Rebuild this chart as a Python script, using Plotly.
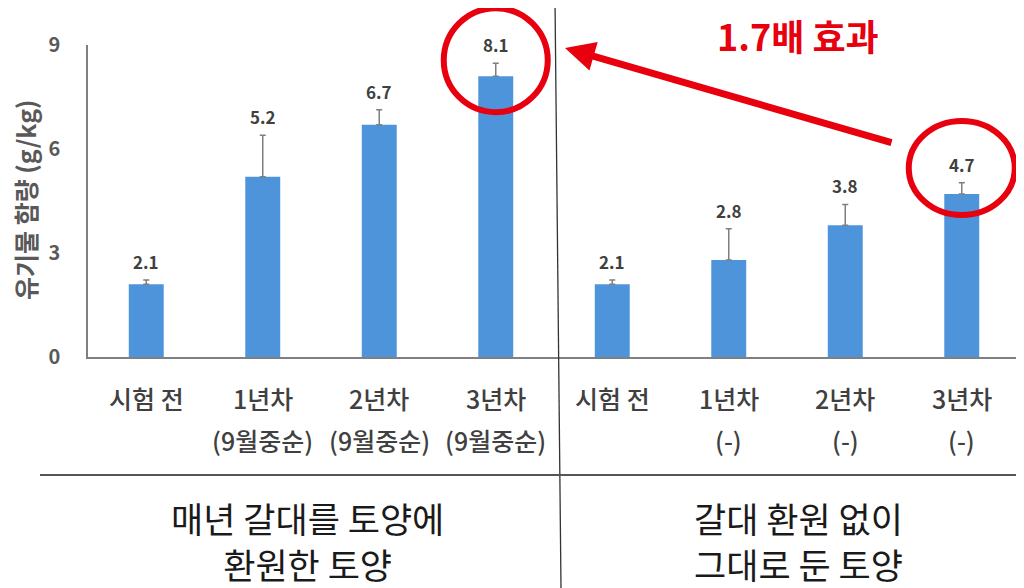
import plotly.graph_objects as go

# data
categories = ["시험 전", "1년차", "2년차", "3년차", "시험 전", "1년차", "2년차", "3년차"]
sublabels = ["", "(9월중순)", "(9월중순)", "(9월중순)", "", "(-)", "(-)", "(-)"]
values = [2.1, 5.2, 6.7, 8.1, 2.1, 2.8, 3.8, 4.7]
errors = [0.12, 1.2, 0.43, 0.37, 0.12, 0.9, 0.6, 0.33]
group_labels = ["매년 갈대를 토양에<br>환원한 토양", "갈대 환원 없이<br>그대로 둔 토양"]
y_ticks = [0, 3, 6, 9]
y_title = "유기물 함량 (g/kg)"
effect_text = "1.7배 효과"
highlight = [3, 7]

FONT = "Noto Sans CJK KR"
RED = "#E8000F"
BLUE = "#4D94DA"

# plot area as seen in the picture: left 88, top 45, 932 x 312 px.
# the page body adds an 8 px margin, so the figure itself is shifted by 8.
OFF = 8
L, T, W, H = 88, 45, 932, 312
Y_MAX = 9
N = len(values)


def px(x):
    return (x - L) / W


def py(y):
    return 1 - (y - T) / H


xs = list(range(N))

fig = go.Figure()
fig.add_trace(go.Bar(
    x=xs,
    y=values,
    width=0.3,
    marker=dict(color=BLUE, line=dict(width=0)),
    error_y=dict(type="data", symmetric=False, array=errors,
                 arrayminus=[0] * N,
                 color="#7f7f7f", thickness=1.5, width=3),
    hoverinfo="skip",
))

annotations = []
# value labels above the error caps
for x, v, e in zip(xs, values, errors):
    annotations.append(dict(
        x=x, y=v + e, xref="x", yref="y", text=f"{v:.1f}",
        showarrow=False, yanchor="bottom", yshift=4,
        font=dict(family=FONT, size=17, color="#404040", weight="bold"),
    ))

# category labels, two rows
for x, c, s in zip(xs, categories, sublabels):
    for txt, yy in ((c, 398), (s, 440)):
        if not txt:
            continue
        annotations.append(dict(
            x=x, y=py(yy), xref="x", yref="paper", text=txt,
            showarrow=False, xanchor="center", yanchor="middle",
            font=dict(family=FONT, size=25, color="#404040", weight=500),
        ))

# group labels
for gx, g in zip([307, 798], group_labels):
    annotations.append(dict(
        x=px(gx), y=py(540), xref="paper", yref="paper", text=g,
        showarrow=False, xanchor="center", yanchor="middle",
        font=dict(family=FONT, size=35, color="#1a1a1a"),
    ))

# y axis title
annotations.append(dict(
    x=px(25), y=py(200), xref="paper", yref="paper", text=y_title,
    showarrow=False, textangle=-90, xanchor="center", yanchor="middle",
    font=dict(family=FONT, size=25, color="#595959", weight="bold"),
))

# red arrow and effect text
annotations.append(dict(
    x=px(565), y=py(48), xref="paper", yref="paper",
    ax=328, ay=95, axref="pixel", ayref="pixel",
    text="", showarrow=True, arrowhead=2, arrowsize=0.85,
    arrowwidth=7, arrowcolor=RED,
))
annotations.append(dict(
    x=px(798), y=py(35), xref="paper", yref="paper", text=effect_text,
    showarrow=False, xanchor="center", yanchor="middle",
    font=dict(family=FONT, size=36, color=RED, weight="bold"),
))

shapes = [
    # vertical divider
    dict(type="line", xref="paper", yref="paper",
         x0=px(555), y0=py(0), x1=px(561), y1=py(588),
         line=dict(color="#333333", width=1.3)),
    # horizontal separator
    dict(type="line", xref="paper", yref="paper",
         x0=px(40), y0=py(475), x1=px(1032), y1=py(475),
         line=dict(color="#555555", width=2)),
]

# circles around highlighted bars (paper refs so they are not clipped)
circle_px = {3: (-52, 52, -36, 68), 7: (-53, 53, -21, 73)}
for i in highlight:
    x0, x1, y0, y1 = circle_px[i]
    shapes.append(dict(
        type="circle", xref="paper", yref="paper",
        xsizemode="pixel", ysizemode="pixel",
        xanchor=(i + 0.5) / N, yanchor=values[i] / Y_MAX,
        x0=x0, x1=x1, y0=y0, y1=y1,
        line=dict(color=RED, width=6),
    ))

fig.update_layout(
    width=1024, height=588,
    margin=dict(l=L - OFF, r=1024 - (L - OFF) - W, t=T - OFF, b=588 - (T - OFF) - H),
    paper_bgcolor="white", plot_bgcolor="white",
    showlegend=False,
    xaxis=dict(range=[-0.5, N - 0.5], showticklabels=False, showgrid=False,
               zeroline=False, showline=True, linecolor="#808080", linewidth=1.5,
               ticks="", automargin=False),
    yaxis=dict(range=[0, Y_MAX], tickvals=y_ticks, showgrid=False, zeroline=False,
               showline=True, linecolor="#808080", linewidth=1.5, ticks="",
               ticklabelstandoff=22, automargin=False,
               tickfont=dict(family=FONT, size=20, color="#595959", weight="bold")),
    annotations=annotations,
    shapes=shapes,
)

fig.write_html("out.html")
